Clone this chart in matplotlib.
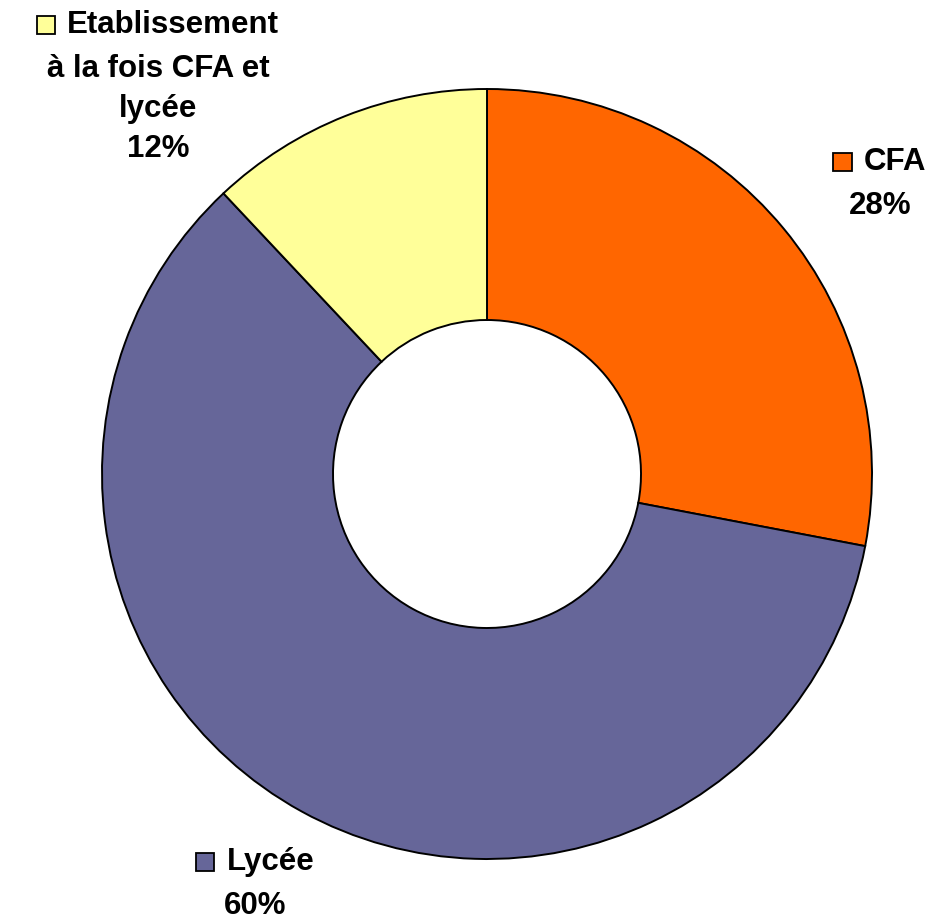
import matplotlib
matplotlib.use("Agg")
import matplotlib.pyplot as plt
from matplotlib.offsetbox import (AnnotationBbox, DrawingArea, HPacker,
                                  TextArea, VPacker)
from matplotlib.patches import Rectangle

plt.rcParams['font.family'] = ['Liberation Sans', 'DejaVu Sans']

categories = ["CFA", "Lycée", "Etablissement\nà la fois CFA et\nlycée"]
shares = [28, 60, 12]
colors = ["#FF6600", "#666699", "#FFFF99"]
# label anchor (pixel centre of the label block) in the 930x922 image
label_pos = [(880, 184), (255, 884), (158, 87)]

W, H = 930, 922
fig = plt.figure(figsize=(W / 100, H / 100), dpi=100)
ax = fig.add_axes([0, 0, 1, 1])

cx, cy, R = 487, 474, 385
ax.pie(shares, colors=colors, startangle=90, counterclock=False,
       radius=1.0, wedgeprops=dict(width=0.6, edgecolor="black", linewidth=1.4))
ax.set_xlim(-cx / R, (W - cx) / R)
ax.set_ylim(-(H - cy) / R, cy / R)
ax.set_aspect("equal")
ax.axis("off")

tp = dict(fontsize=22.5, fontweight="bold", color="black")

for name, val, col, (px, py) in zip(categories, shares, colors, label_pos):
    lines = name.split("\n")
    sq = DrawingArea(13, 13, 0, 0)
    sq.add_artist(Rectangle((0, 0), 13, 13, facecolor=col, edgecolor="black", linewidth=1.3))
    first = HPacker(children=[sq, TextArea(lines[0], textprops=tp)],
                    align="center", pad=0, sep=9)
    rest = "\n".join(lines[1:] + ["%d%%" % val])
    body = TextArea(rest, textprops=dict(tp, multialignment="center", linespacing=1.45))
    box = VPacker(children=[first, body], align="center", pad=0, sep=10)
    ab = AnnotationBbox(box, (px / W, 1 - py / H), xycoords="figure fraction",
                        frameon=False, box_alignment=(0.5, 0.5))
    fig.add_artist(ab)

fig.savefig("out.png", dpi=100)
